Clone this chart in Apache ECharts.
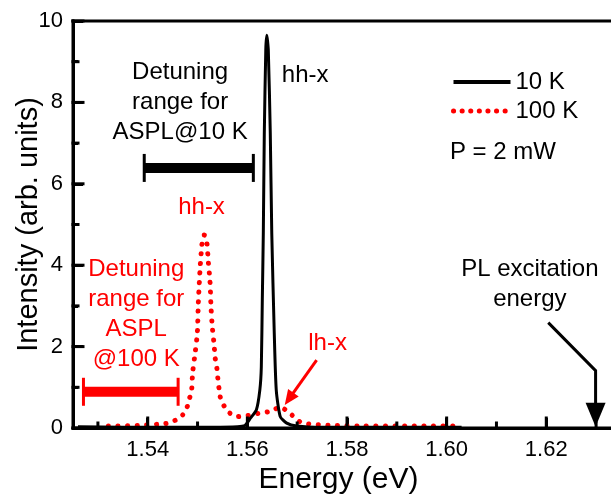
<!DOCTYPE html>
<html>
<head>
<meta charset="utf-8">
<script src="https://cdn.jsdelivr.net/npm/echarts@6/dist/echarts.min.js"></script>
<style>
html,body{margin:0;padding:0;background:#fff;}
#chart{width:611px;height:498px;}
</style>
</head>
<body>
<div id="chart"></div>
<script>
// ---- Data ----
const energy10K = [1.526, 1.535, 1.545, 1.553, 1.558, 1.5595, 1.5606, 1.5618, 1.5625, 1.5628, 1.5630, 1.5632, 1.5634, 1.5637, 1.5639, 1.5642, 1.5646, 1.5649, 1.5654, 1.5658, 1.5666, 1.5679, 1.5699, 1.575, 1.585, 1.595, 1.603];
const intensity10K = [0.03, 0.02, 0.02, 0.02, 0.03, 0.06, 0.24, 0.44, 0.93, 1.5, 3.15, 4.78, 7.24, 9.3, 9.65, 9.3, 7.24, 4.78, 2.33, 0.93, 0.28, 0.12, 0.05, 0.02, 0.02, 0.02, 0.02];

const energy100K = [1.5321, 1.5381, 1.5428, 1.5445, 1.5458, 1.5470, 1.5478, 1.5483, 1.5488, 1.5490, 1.5495, 1.54995, 1.55015, 1.55035, 1.55055, 1.55083, 1.55103, 1.55135, 1.55184, 1.55216, 1.5525, 1.5527, 1.55296, 1.55336, 1.5535, 1.55384, 1.55404, 1.5545, 1.55484, 1.55617, 1.55785, 1.5599, 1.5622, 1.5642, 1.5655, 1.5665, 1.5675, 1.5686, 1.5696, 1.5706, 1.5722, 1.5742, 1.5779, 1.5833, 1.5900, 1.5966, 1.6023];
const intensity100K = [0.05, 0.06, 0.10, 0.13, 0.21, 0.32, 0.48, 0.69, 0.93, 1.34, 1.83, 2.33, 3.06, 3.56, 4.0, 4.45, 4.64, 4.74, 4.58, 4.09, 3.6, 2.98, 2.49, 2.0, 1.75, 1.51, 1.26, 0.8, 0.65, 0.4, 0.28, 0.30, 0.36, 0.40, 0.46, 0.52, 0.46, 0.36, 0.24, 0.15, 0.10, 0.08, 0.06, 0.05, 0.05, 0.05, 0.05];

const xMajorTicks = [1.54, 1.56, 1.58, 1.60, 1.62];
const xMinorTicks = [1.53, 1.55, 1.57, 1.59, 1.61, 1.63];
const yMajorTicks = [0, 2, 4, 6, 8, 10];
const yMinorTicks = [1, 3, 5, 7, 9];

// Annotations (data coordinates)
const detuning10K = [1.5393, 1.5612, 6.39];   // [xStart, xEnd, y]
const detuning100K = [1.5271, 1.5461, 0.89];
const lhArrow = [[1.5739, 1.67], [1.5675, 0.565]];
const plArrow = [[1.6204, 2.59], [1.6299, 1.41], [1.6299, 0.03]];
const labels = [
  {text: 'Detuning\nrange for\nASPL@10 K', pos: [1.5465, 8.01], color: '#000'},
  {text: 'hh-x', pos: [1.5716, 8.67], color: '#000'},
  {text: 'hh-x', pos: [1.5508, 5.41], color: '#ff0000'},
  {text: 'Detuning\nrange for\nASPL\n@100 K', pos: [1.5377, 2.78], color: '#ff0000'},
  {text: 'lh-x', pos: [1.5761, 2.09], color: '#ff0000'},
  {text: 'PL excitation\nenergy', pos: [1.6167, 3.54], color: '#000'},
  {text: 'P = 2 mW', pos: [1.6113, 6.78], color: '#000'}
];

const FONT = 'Liberation Sans, Arial, sans-serif';
const chart = echarts.init(document.getElementById('chart'), null, {renderer: 'canvas'});

function zip(a, b) { return a.map((v, i) => [v, b[i]]); }

function arrowHead(p1, p2, L, W) {
  const dx = p2[0] - p1[0], dy = p2[1] - p1[1];
  const len = Math.sqrt(dx * dx + dy * dy);
  const ux = dx / len, uy = dy / len;
  const nx = -uy, ny = ux;
  const bx = p2[0] - ux * L, by = p2[1] - uy * L;
  return {
    poly: [p2, [bx + nx * W, by + ny * W], [bx - nx * W, by - ny * W]],
    lineEnd: [p2[0] - ux * L * 0.7, p2[1] - uy * L * 0.7]
  };
}

function errBar(api, d, color) {
  const a = api.coord([d[0], d[2]]);
  const b = api.coord([d[1], d[2]]);
  return [
    {type: 'line', shape: {x1: a[0], y1: a[1], x2: b[0], y2: b[1]}, style: {stroke: color, lineWidth: 10}},
    {type: 'line', shape: {x1: a[0], y1: a[1] - 14, x2: a[0], y2: a[1] + 14}, style: {stroke: color, lineWidth: 3}},
    {type: 'line', shape: {x1: b[0], y1: b[1] - 14, x2: b[0], y2: b[1] + 14}, style: {stroke: color, lineWidth: 3}}
  ];
}

function arrow(api, pts, color, lw, L, W) {
  const px = pts.map(p => api.coord(p));
  const n = px.length;
  const h = arrowHead(px[n - 2], px[n - 1], L, W);
  const linePts = px.slice(0, n - 1).concat([h.lineEnd]);
  return [
    {type: 'polyline', shape: {points: linePts}, style: {stroke: color, lineWidth: lw, fill: null}},
    {type: 'polygon', shape: {points: h.poly}, style: {fill: color}}
  ];
}

// inward ticks and frame lines placed through the axes' scales
function frame(api) {
  const out = [];
  const seg = (p, q) => out.push({type: 'line', shape: {x1: p[0], y1: p[1], x2: q[0], y2: q[1]}, style: {stroke: '#000', lineWidth: 3, lineCap: 'square'}});
  seg(api.coord([1.525, 0]), api.coord([1.635, 0]));
  seg(api.coord([1.525, 10]), api.coord([1.635, 10]));
  seg(api.coord([1.525, 0]), api.coord([1.525, 10]));
  xMajorTicks.forEach(v => { const p = api.coord([v, 0]); seg(p, [p[0], p[1] - 10]); });
  xMinorTicks.forEach(v => { const p = api.coord([v, 0]); seg(p, [p[0], p[1] - 5]); });
  yMajorTicks.forEach(v => { const p = api.coord([1.525, v]); seg(p, [p[0] + 10, p[1]]); });
  yMinorTicks.forEach(v => { const p = api.coord([1.525, v]); seg(p, [p[0] + 5, p[1]]); });
  return out;
}

const option = {
  animation: false,
  grid: {left: 73, top: 21, width: 548, height: 407, outerBoundsMode: 'none'},
  legend: {
    orient: 'vertical', left: 446, top: 65, itemWidth: 57, itemHeight: 14, itemGap: 5,
    itemStyle: {opacity: 0},
    textStyle: {fontSize: 24, fontFamily: FONT, color: '#000', lineHeight: 24},
    data: [
      {name: '10 K', lineStyle: {width: 4, color: '#000'}},
      {name: '100 K', lineStyle: {width: 5, color: '#ff0000', type: [0.1, 8.5], cap: 'round'}}
    ]
  },
  xAxis: {
    type: 'value', min: 1.525, max: 1.635,
    name: 'Energy (eV)', nameLocation: 'middle', nameGap: 37, nameMoveOverlap: false,
    nameTextStyle: {fontSize: 30, fontFamily: FONT, color: '#000', padding: [0, 17, 0, 0]},
    axisLine: {show: true, lineStyle: {color: '#000', width: 3}},
    axisTick: {show: true, inside: true, length: 10, lineStyle: {color: '#000', width: 3}, customValues: xMajorTicks},
    axisLabel: {show: true, fontSize: 22, fontFamily: FONT, color: '#000', margin: 11, customValues: xMajorTicks, formatter: v => v.toFixed(2)},
    splitLine: {show: false}
  },
  yAxis: {
    type: 'value', min: 0, max: 10, interval: 2,
    name: 'Intensity (arb. units)', nameLocation: 'middle', nameGap: 30, nameMoveOverlap: false,
    nameTextStyle: {fontSize: 29, fontFamily: FONT, color: '#000'},
    axisLine: {show: true, lineStyle: {color: '#000', width: 3}},
    axisTick: {show: true, inside: true, length: 10, lineStyle: {color: '#000', width: 3}},
    minorTick: {show: true, splitNumber: 2, length: 5, lineStyle: {color: '#000', width: 3}},
    axisLabel: {fontSize: 22, fontFamily: FONT, color: '#000', margin: 10},
    splitLine: {show: false}
  },
  series: [
    {
      name: '10 K', type: 'line', data: zip(energy10K, intensity10K), showSymbol: false, symbol: 'none',
      smooth: 0.2, lineStyle: {color: '#000', width: 3}, itemStyle: {color: '#000'}, z: 3
    },
    {
      name: '100 K', type: 'line', data: zip(energy100K, intensity100K), showSymbol: false, symbol: 'none',
      smooth: 0.3, lineStyle: {color: '#ff0000', width: 5, type: [0.1, 9.5], cap: 'round'}, itemStyle: {color: '#ff0000'}, z: 2
    },
    {
      type: 'custom', data: [[0, 0]], clip: false, silent: true, z: 5, zlevel: 1,
      renderItem: function (params, api) {
        const children = frame(api);
        errBar(api, detuning10K, '#000').forEach(c => children.push(c));
        errBar(api, detuning100K, '#ff0000').forEach(c => children.push(c));
        arrow(api, lhArrow, '#ff0000', 3, 15, 6.5).forEach(c => children.push(c));
        arrow(api, plArrow, '#000', 3, 24, 10).forEach(c => children.push(c));
        labels.forEach(l => {
          const p = api.coord(l.pos);
          children.push({type: 'text', style: {text: l.text, x: p[0], y: p[1], fill: l.color, fontSize: 24, fontFamily: FONT, align: 'center', verticalAlign: 'middle', lineHeight: 30}});
        });
        return {type: 'group', children: children};
      }
    }
  ]
};
chart.setOption(option);
</script>
</body>
</html>
